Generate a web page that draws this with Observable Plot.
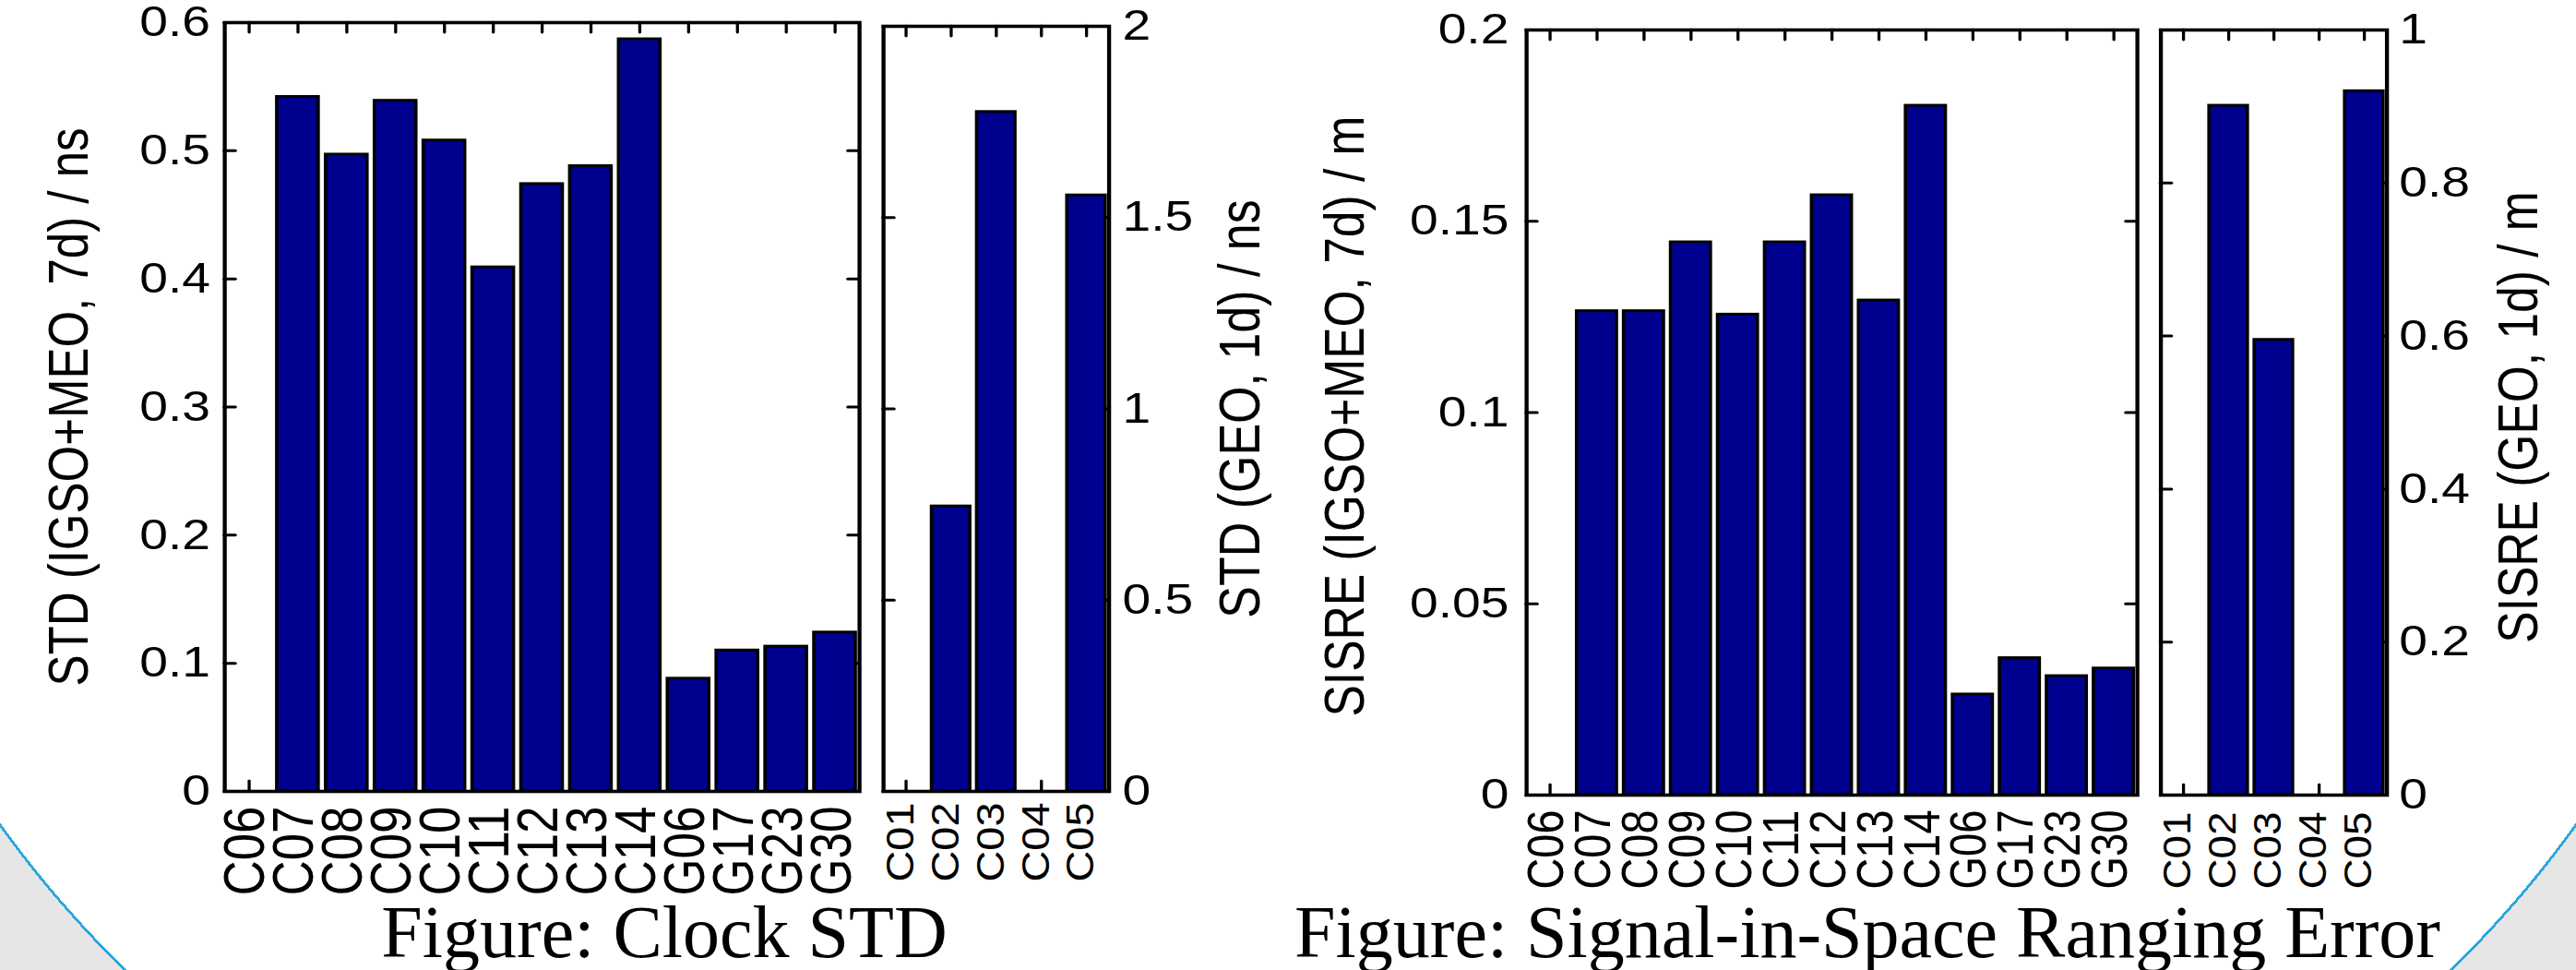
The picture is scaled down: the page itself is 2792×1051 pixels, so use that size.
<!DOCTYPE html>
<html>
<head>
<meta charset="utf-8">
<script src="https://cdn.jsdelivr.net/npm/d3@7"></script>
<script src="https://cdn.jsdelivr.net/npm/@observablehq/plot@0.6"></script>
<style>
html, body { margin: 0; padding: 0; background: #fff; }
body { width: 2792px; height: 1051px; overflow: hidden; position: relative; }
#bg { position: absolute; left: 0; top: 0; width: 2792px; height: 1051px;
  background: radial-gradient(ellipse 1580px 1166px at 1396px 350px, #ffffff 99.8%, #2aa7df 99.8%, #2aa7df 100%, #e6e6e6 100%); }
#charts { position: absolute; left: 0; top: 0; width: 2327px; height: 1051px; transform: scaleX(1.2); transform-origin: 0 0; }
.cap { position: absolute; top: 970px; font-family: "Liberation Serif", "Times New Roman", serif; font-size: 80px;
  line-height: 1; white-space: nowrap; transform: translateX(-50%); color: #000; }
</style>
</head>
<body>
<div id="bg"></div>
<div id="charts"></div>
<div class="cap" style="left:720px">Figure: Clock STD</div>
<div class="cap" style="left:2024px">Figure: Signal-in-Space Ranging Error</div>
<script>
// ---- data ----
const satsMain = ["C06","C07","C08","C09","C10","C11","C12","C13","C14","G06","G17","G23","G30"];
const satsGeo = ["C01","C02","C03","C04","C05"];
const clockStdMain = [null, 0.542, 0.497, 0.539, 0.508, 0.409, 0.474, 0.488, 0.587, 0.088, 0.110, 0.113, 0.124];
const clockStdGeo = [null, 0.745, 1.776, null, 1.558];
const sisreMain = [null, 0.1265, 0.1265, 0.1445, 0.1256, 0.1445, 0.1568, 0.1293, 0.1802, 0.0263, 0.0358, 0.0311, 0.0331];
const sisreGeo = [null, 0.901, 0.595, null, 0.920];
const ticksClockMain = [0, 0.1, 0.2, 0.3, 0.4, 0.5, 0.6];
const ticksClockGeo = [0, 0.5, 1, 1.5, 2];
const ticksSisreMain = [0, 0.05, 0.1, 0.15, 0.2];
const ticksSisreGeo = [0, 0.2, 0.4, 0.6, 0.8, 1];
const titles = ["STD (IGSO+MEO, 7d) / ns", "STD (GEO, 1d) / ns", "SISRE (IGSO+MEO, 7d) / m", "SISRE (GEO, 1d) / m"];

// ---- layout ----
const W = 2327, H = 1051, SX = 1.2;
const FONT = "'Liberation Sans', Arial, Helvetica, sans-serif";

function panel(o) {
  const left = o.left / SX, right = o.right / SX;
  const fw = right - left, fh = o.bottom - o.top;
  const table = o.sats.map((s, i) => ({sat: s, value: o.values[i]}));
  const svg = Plot.plot({
    width: W, height: H,
    marginLeft: left, marginRight: W - right, marginTop: o.top, marginBottom: H - o.bottom,
    style: `position:absolute;left:0;top:0;background:transparent;max-width:none;overflow:visible;font-family:${FONT};color:#000;`,
    x: {type: "band", domain: o.sats, paddingInner: 0.15, paddingOuter: 0.075, round: false},
    y: {type: "linear", domain: o.yDomain, nice: false},
    marks: [
      Plot.tickX(o.sats, {x: d => d, insetBottom: fh - 11, stroke: "black", strokeWidth: 2.75, strokeLinecap: "round"}),
      Plot.tickX(o.sats, {x: d => d, insetTop: fh - 11, stroke: "black", strokeWidth: 2.75, strokeLinecap: "round"}),
      Plot.tickY(o.yTicks, {y: d => d, insetRight: fw - 10, stroke: "black", strokeWidth: 3, strokeLinecap: "round"}),
      Plot.tickY(o.yTicks, {y: d => d, insetLeft: fw - 10, stroke: "black", strokeWidth: 3, strokeLinecap: "round"}),
      Plot.barY(table, {filter: d => d.value != null, x: "sat", y: "value", fill: "#00008f", stroke: "black", strokeWidth: 3}),
      Plot.frame({stroke: "black", strokeWidth: 3.6}),
      Plot.axisY(o.yTicks, {anchor: o.tickSide, tickSize: 0, tickPadding: o.tickPadding, fontSize: 46, tickFormat: d => String(d), label: null}),
      Plot.axisX(o.sats, {anchor: "bottom", tickSize: 0, tickPadding: o.xPadding, tickRotate: -90, fontSize: o.xFont, dx: o.xDx, label: null}),
      Plot.text([o.title], {frameAnchor: o.titleSide, textAnchor: "middle", lineAnchor: "middle", rotate: -90,
        dx: o.titleDx, dy: o.titleDy, fontSize: o.titleFont, fill: "black"})
    ]
  });
  if (o.xLen) {
    d3.select(svg).selectAll('g[aria-label="x-axis tick label"] text')
      .attr("textLength", o.xLen).attr("lengthAdjust", "spacingAndGlyphs");
  }
  document.getElementById("charts").appendChild(svg);
}

panel({sats: satsMain, values: clockStdMain, yDomain: [0, 0.6], yTicks: ticksClockMain,
  left: 243, right: 931, top: 24, bottom: 857, tickSide: "left", tickPadding: 13,
  xFont: 52, xPadding: 16, xLen: 97, xDx: -3,
  title: titles[0], titleSide: "left", titleDx: -140, titleDy: 0, titleFont: 51});

panel({sats: satsGeo, values: clockStdGeo, yDomain: [0, 2], yTicks: ticksClockGeo,
  left: 957, right: 1201.5, top: 28, bottom: 857, tickSide: "right", tickPadding: 12,
  xFont: 36, xPadding: 12, xLen: 86, xDx: -5,
  title: titles[1], titleSide: "right", titleDx: 119, titleDy: 0, titleFont: 52});

panel({sats: satsMain, values: sisreMain, yDomain: [0, 0.2], yTicks: ticksSisreMain,
  left: 1654, right: 2316, top: 32, bottom: 861, tickSide: "left", tickPadding: 16,
  xFont: 46, xPadding: 16, xLen: 86, xDx: -3,
  title: titles[2], titleSide: "left", titleDx: -164, titleDy: 4, titleFont: 51.5});

panel({sats: satsGeo, values: sisreGeo, yDomain: [0, 1], yTicks: ticksSisreGeo,
  left: 2341.5, right: 2586.5, top: 32, bottom: 861, tickSide: "right", tickPadding: 11,
  xFont: 36, xPadding: 18, xLen: 84, xDx: -5,
  title: titles[3], titleSide: "right", titleDx: 119, titleDy: 5, titleFont: 51.5});
</script>
</body>
</html>
